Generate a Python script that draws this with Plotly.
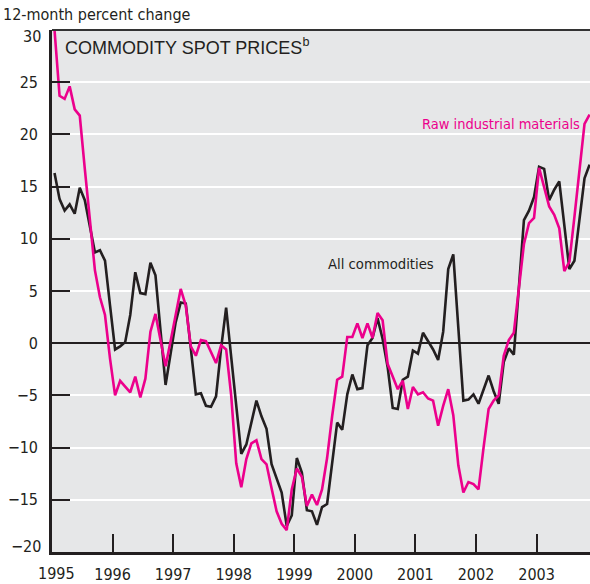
import plotly.graph_objects as go

# Monthly observations, Jan 1995 .. Nov 2003 (12-month percent change)
all_commodities = [
    16.3, 13.8, 12.7, 13.3, 12.4, 14.9, 13.7, 11.2, 8.7, 8.9, 7.9, 3.6,      # 1995
    -0.6, -0.3, 0.1, 2.7, 6.8, 4.8, 4.7, 7.7, 6.5, 1.2, -4.0, -1.0,          # 1996
    2.0, 3.9, 3.8, -0.5, -4.9, -4.8, -6.0, -6.1, -5.1, -0.5, 3.4, -1.3,      # 1997
    -6.0, -10.6, -9.7, -7.7, -5.5, -7.0, -8.2, -11.6, -13.0, -14.3, -17.5, -16.5,  # 1998
    -11.0, -12.4, -16.0, -16.1, -17.4, -15.7, -15.4, -11.6, -7.6, -8.3, -4.9, -3.0,  # 1999
    -4.4, -4.3, -0.2, 0.5, 2.4, 0.4, -2.3, -6.2, -6.3, -3.5, -3.2, -0.7,     # 2000
    -1.0, 1.0, 0.2, -0.6, -1.6, 1.1, 7.1, 8.5, 1.5, -5.5, -5.4, -4.9,        # 2001
    -5.8, -4.5, -3.1, -4.6, -5.8, -1.8, -0.5, -1.1, 5.0, 11.8, 12.7, 14.0,   # 2002
    16.9, 16.7, 13.7, 14.7, 15.5, 11.3, 7.1, 7.9, 12.0, 15.8, 17.1,          # 2003
]
raw_industrial = [
    30.0, 23.7, 23.4, 24.6, 22.4, 21.8, 16.7, 11.6, 7.0, 4.4, 2.7, -1.5,     # 1995
    -5.0, -3.6, -4.1, -4.7, -3.2, -5.2, -3.4, 1.1, 2.8, 0.4, -2.2, 0.2,      # 1996
    2.8, 5.2, 3.6, -0.3, -1.2, 0.3, 0.2, -0.8, -1.9, -0.2, -0.6, -5.0,       # 1997
    -11.5, -13.8, -11.1, -9.6, -9.3, -11.1, -11.6, -13.9, -16.1, -17.3, -17.9, -14.0,  # 1998
    -12.0, -12.8, -15.6, -14.5, -15.5, -14.0, -11.0, -7.0, -3.5, -3.2, 0.6, 0.6,  # 1999
    1.9, 0.5, 1.9, 0.5, 2.9, 2.2, -2.0, -3.2, -4.4, -3.6, -6.3, -4.2,        # 2000
    -4.9, -4.7, -5.3, -5.5, -7.9, -6.0, -4.4, -6.9, -11.7, -14.3, -13.3, -13.5,  # 2001
    -14.0, -10.0, -6.3, -5.5, -5.0, -1.2, 0.3, 1.0, 5.5, 9.5, 11.5, 12.0,    # 2002
    16.8, 14.8, 13.1, 12.3, 11.0, 6.9, 7.8, 12.1, 16.7, 21.0, 21.9,          # 2003
]
start_year = 1995
months = [start_year + (i + 0.5) / 12 for i in range(len(all_commodities))]
year_ticks = list(range(1995, 2004))
year_labels = [str(y) for y in year_ticks]
y_ticks = list(range(-20, 31, 5))
y_labels = [str(v).replace("-", "\u2212") for v in y_ticks]

BLACK = "#231f20"
PINK = "#ec008c"
BG = "#e6e7e8"
NARROW = "Liberation Sans Narrow, DejaVu Sans Condensed, Arial Narrow, sans-serif"
SANS = "Liberation Sans, Arial, Helvetica, sans-serif"

fig = go.Figure()
fig.add_trace(go.Scatter(x=months, y=all_commodities, mode="lines",
                         line=dict(color=BLACK, width=2.6), name="All commodities",
                         hoverinfo="skip"))
fig.add_trace(go.Scatter(x=months, y=raw_industrial, mode="lines",
                         line=dict(color=PINK, width=2.6), name="Raw industrial materials",
                         hoverinfo="skip"))

W, H = 590, 584
L, R, T, B = 52, 0, 30, 30
pw, ph = W - L - R, H - T - B
px_per_year = 60.57

def px(xp):
    return (xp - L) / pw

def py(yp):
    return (H - B - yp) / ph

# Inner ticks carry the axis labels; the end labels (top/bottom of the y axis and
# the first year, which sit on the frame corners) are nudged inward as in the original.
y_inner_vals, y_inner_text = y_ticks[1:-1], y_labels[1:-1]
x_inner_vals, x_inner_text = year_ticks[1:], year_labels[1:]

tick_font = dict(family=NARROW, size=16, color="#231f20")

annotations = [
    dict(text="12-month percent change", xref="paper", yref="paper",
         x=px(1), y=py(14), xanchor="left", yanchor="middle", showarrow=False,
         font=dict(family=NARROW, size=16, color="#231f20")),
    dict(text="COMMODITY SPOT PRICES<sup>b</sup>", xref="paper", yref="paper",
         x=px(63), y=py(47), xanchor="left", yanchor="middle", showarrow=False,
         font=dict(family=SANS, size=18, color="#231f20")),
    dict(text="All commodities", xref="paper", yref="paper",
         x=px(326), y=py(264), xanchor="left", yanchor="middle", showarrow=False,
         font=dict(family=NARROW, size=14.7, color="#231f20")),
    dict(text="Raw industrial materials", xref="paper", yref="paper",
         x=px(582), y=py(124), xanchor="right", yanchor="middle", showarrow=False,
         font=dict(family=NARROW, size=14.5, color=PINK)),
    dict(text=y_labels[-1], xref="paper", yref="paper", x=px(43), y=py(37),
         xanchor="right", yanchor="middle", showarrow=False, font=tick_font),
    dict(text=y_labels[0], xref="paper", yref="paper", x=px(43), y=py(548),
         xanchor="right", yanchor="middle", showarrow=False, font=tick_font),
    dict(text=year_labels[0], xref="paper", yref="paper", x=px(56), y=py(576),
         xanchor="center", yanchor="middle", showarrow=False, font=tick_font),
]

fig.update_layout(
    width=W, height=H,
    margin=dict(l=L, r=R, t=T, b=B, pad=0),
    paper_bgcolor="white",
    plot_bgcolor=BG,
    showlegend=False,
    font=dict(family=NARROW, size=16, color="#231f20"),
    xaxis=dict(
        range=[start_year, start_year + pw / px_per_year],
        tickmode="array", tickvals=x_inner_vals, ticktext=x_inner_text,
        ticks="inside", ticklen=18, tickwidth=2.2, tickcolor=BLACK,
        showline=True, linecolor=BLACK, linewidth=2.6,
        showgrid=False, zeroline=False,
        tickfont=tick_font,
        ticklabelstandoff=6,
        fixedrange=True,
    ),
    yaxis=dict(
        range=[-20, 30],
        tickmode="array", tickvals=y_inner_vals, ticktext=y_inner_text,
        ticks="inside", ticklen=18, tickwidth=2.2, tickcolor=BLACK,
        showline=True, linecolor=BLACK, linewidth=2.6,
        showgrid=True, gridcolor="white", gridwidth=2.2,
        zeroline=True, zerolinecolor=BLACK, zerolinewidth=1.6,
        tickfont=tick_font,
        ticklabelstandoff=8,
        fixedrange=True,
    ),
    shapes=[dict(type="line", xref="paper", yref="paper", x0=0, x1=1, y0=1, y1=1,
                 line=dict(color="#333333", width=2))],
    annotations=annotations,
)

fig.write_html("out.html", config={"displayModeBar": False},
               post_script="document.body.style.margin='0';document.body.style.overflow='hidden';")
